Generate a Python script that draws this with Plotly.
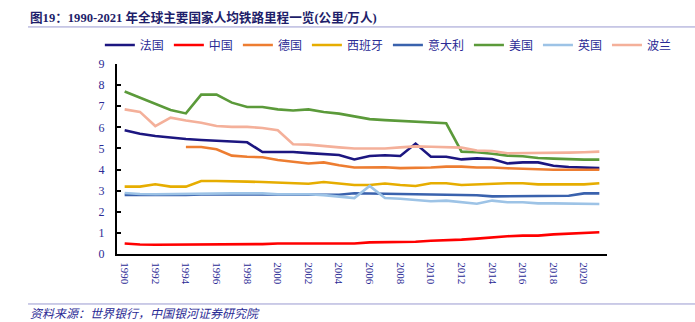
import plotly.graph_objects as go

years = list(range(1990, 2022))

france = [5.86, 5.70, 5.59, 5.51, 5.45, 5.40, 5.37, 5.32, 5.29, 4.83, 4.83, 4.83, 4.78, 4.74, 4.69, 4.48,
          4.64, 4.68, 4.64, 5.23, 4.61, 4.61, 4.48, 4.53, 4.50, 4.29, 4.34, 4.34, 4.18, 4.12, 4.09, 4.07]
china = [0.50, 0.45, 0.44, 0.44, 0.44, 0.47, 0.47, 0.47, 0.47, 0.47, 0.50, 0.50, 0.50, 0.50, 0.50, 0.50,
         0.55, 0.55, 0.55, 0.58, 0.63, 0.65, 0.68, 0.73, 0.79, 0.84, 0.87, 0.87, 0.93, 0.96, 0.99, 1.03]
germany = [None, None, None, None, 5.07, 5.07, 4.96, 4.66, 4.61, 4.58, 4.45, 4.36, 4.29, 4.34, 4.20, 4.10,
           4.10, 4.11, 4.07, 4.07, 4.10, 4.14, 4.14, 4.10, 4.10, 4.06, 4.03, 4.03, 3.99, 3.99, 3.99, 3.99]
spain = [3.19, 3.19, 3.30, 3.19, 3.19, 3.46, 3.46, 3.46, 3.43, 3.41, 3.38, 3.38, 3.33, 3.41, 3.35, 3.27,
         3.27, 3.34, 3.27, 3.22, 3.35, 3.35, 3.27, 3.30, 3.30, 3.35, 3.35, 3.30, 3.30, 3.30, 3.30, 3.35]
italy = [2.80, 2.80, 2.80, 2.77, 2.80, 2.82, 2.82, 2.82, 2.82, 2.82, 2.83, 2.84, 2.84, 2.84, 2.81, 2.88,
         2.87, 2.86, 2.84, 2.84, 2.81, 2.81, 2.81, 2.78, 2.73, 2.73, 2.73, 2.73, 2.76, 2.76, 2.87, 2.87]
usa = [7.70, 7.40, 7.09, 6.82, 6.66, 7.55, 7.55, 7.17, 6.96, 6.96, 6.85, 6.80, 6.85, 6.73, 6.65, 6.52,
       6.39, 6.34, 6.30, 6.25, 6.24, 6.19, 4.85, 4.82, 4.75, 4.66, 4.63, 4.55, 4.52, 4.48, 4.47, 4.47]
uk = [2.89, 2.84, 2.83, 2.84, 2.87, 2.87, 2.87, 2.87, 2.87, 2.87, 2.83, 2.83, 2.83, 2.79, 2.72, 2.65,
      3.22, 2.65, 2.62, 2.57, 2.50, 2.53, 2.45, 2.38, 2.53, 2.45, 2.45, 2.40, 2.40, 2.40, 2.40, 2.37]
poland = [6.85, 6.73, 6.06, 6.46, 6.32, 6.22, 6.06, 6.02, 6.02, 5.97, 5.86, 5.20, 5.18, 5.10, 5.05, 5.00,
          4.99, 5.00, 5.05, 5.10, 5.08, 5.07, 5.04, 4.90, 4.88, 4.77, 4.77, 4.77, 4.77, 4.80, 4.82, 4.85]

series = [
    ("法国", france, "#1c1680"),
    ("中国", china, "#ff0000"),
    ("德国", germany, "#ed7d31"),
    ("西班牙", spain, "#e6ad00"),
    ("意大利", italy, "#3a62ad"),
    ("美国", usa, "#5b9a3a"),
    ("英国", uk, "#9dc3e6"),
    ("波兰", poland, "#f4b09a"),
]

label_ticks = list(range(1990, 2021, 2))
mark_ticks = [y + 1.5 for y in range(1990, 2021, 2)]

FONT = "Times New Roman, Liberation Serif, Noto Sans CJK SC, serif"
TXT = "#2b2b95"

fig = go.Figure()
for name, vals, col in series:
    fig.add_trace(go.Scatter(x=years, y=vals, name=name, mode="lines",
                             line=dict(color=col, width=2.6), connectgaps=False))

xr = [1989.5, 2021.5]
fig.update_layout(
    width=695, height=322,
    margin=dict(l=117, r=88, t=64, b=68),
    paper_bgcolor="white", plot_bgcolor="white",
    font=dict(family=FONT, color=TXT, size=11),
    showlegend=True,
    legend=dict(orientation="h", x=-0.035, xanchor="left", y=1.10, yanchor="middle",
                font=dict(size=12, color=TXT), itemwidth=30, tracegroupgap=0,
                bgcolor="rgba(0,0,0,0)"),
    xaxis=dict(range=xr, tickvals=label_ticks, ticktext=[str(t) for t in label_ticks],
               tickangle=90, ticks="", showgrid=False, zeroline=False,
               showline=True, linecolor="black", linewidth=2,
               tickfont=dict(size=11, color=TXT), ticklabelstandoff=4),
    xaxis2=dict(range=xr, overlaying="x", anchor="y", side="bottom",
                tickvals=mark_ticks, showticklabels=False, ticks="inside",
                ticklen=4, tickwidth=1.5, tickcolor="black", showgrid=False,
                zeroline=False, showline=False),
    yaxis=dict(range=[0, 9], dtick=1, ticks="inside", ticklen=4, tickwidth=1.5,
               tickcolor="black", showgrid=False, zeroline=False,
               showline=True, linecolor="black", linewidth=2,
               tickfont=dict(size=12, color=TXT), ticklabelstandoff=8),
    shapes=[
        dict(type="line", xref="paper", yref="paper", x0=-0.1816, x1=1.18,
             y0=1.195, y1=1.195, line=dict(color="#9a9ad0", width=1)),
        dict(type="line", xref="paper", yref="paper", x0=-0.1816, x1=1.18,
             y0=-0.263, y1=-0.263, line=dict(color="#9a9ad0", width=1)),
    ],
    annotations=[
        dict(text="<b>图19：1990-2021 年全球主要国家人均铁路里程一览(公里/万人)</b>",
             xref="paper", yref="paper", x=-0.1816, y=1.247, xanchor="left",
             yanchor="middle", showarrow=False,
             font=dict(size=12.6, color="#1e1e6a", family=FONT)),
        dict(text="<i>资料来源：世界银行，中国银河证券研究院</i>",
             xref="paper", yref="paper", x=-0.1816, y=-0.318, xanchor="left",
             yanchor="middle", showarrow=False,
             font=dict(size=12, color=TXT, family=FONT)),
    ],
)

fig.write_html("out.html")
